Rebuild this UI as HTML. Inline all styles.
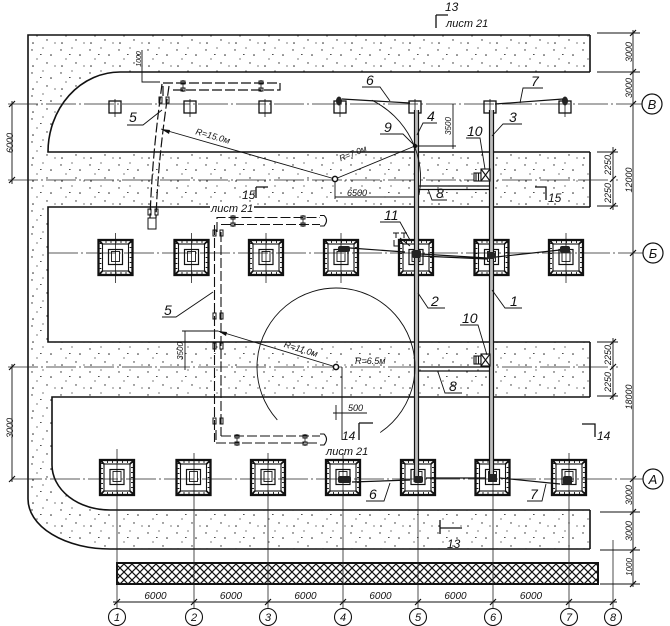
<!DOCTYPE html>
<html><head><meta charset="utf-8">
<style>
html,body{margin:0;padding:0;background:#fff;}
svg{display:block;}
text{font-family:"Liberation Sans",sans-serif;font-style:italic;fill:#111;}
</style></head>
<body>
<svg width="670" height="626" viewBox="0 0 670 626" xmlns="http://www.w3.org/2000/svg">
<defs>
<pattern id="sand" width="29" height="23" patternUnits="userSpaceOnUse">
 <circle cx="3" cy="4" r="0.7" fill="#222"/>
 <circle cx="14" cy="2" r="0.6" fill="#222"/>
 <circle cx="22" cy="9" r="0.8" fill="#222"/>
 <circle cx="8" cy="13" r="0.6" fill="#222"/>
 <circle cx="18" cy="17" r="0.7" fill="#222"/>
 <circle cx="26" cy="20" r="0.6" fill="#222"/>
 <circle cx="4" cy="20" r="0.8" fill="#222"/>
 <rect x="11" y="8" width="1.6" height="0.8" fill="#222"/>
</pattern>
<pattern id="hatch" width="8" height="8" patternUnits="userSpaceOnUse">
 <path d="M0,0 L8,8 M8,0 L0,8 M-1,7 L1,9 M7,-1 L9,1 M-1,1 L1,-1 M7,9 L9,7" stroke="#111" stroke-width="1.2"/>
</pattern>
<g id="ped">
 <rect x="-17" y="-17.5" width="34" height="35" fill="none" stroke="#111" stroke-width="2.3"/>
 <rect x="-15" y="-15.5" width="30" height="31" fill="none" stroke="#111" stroke-width="1.8" stroke-dasharray="1 4"/>
 <rect x="-13" y="-13.5" width="26" height="27" fill="none" stroke="#111" stroke-width="1.1"/>
 <path d="M-17,-17.5 l4,4 M17,-17.5 l-4,4 M-17,17.5 l4,-4 M17,17.5 l-4,-4" stroke="#111" stroke-width="1.6"/>
 <rect x="-7" y="-8" width="14" height="15" fill="none" stroke="#111" stroke-width="1.2"/>
 <rect x="-4" y="-6" width="8" height="10" fill="none" stroke="#111" stroke-width="0.9"/>
</g>
<g id="sq">
 <rect x="-6" y="-3" width="12" height="12" fill="none" stroke="#111" stroke-width="1.3"/>
 <path d="M0,-5 V13" stroke="#111" stroke-width="0.8"/>
</g>
<g id="boltv">
 <rect x="-5" y="-3" width="3" height="6" fill="none" stroke="#111" stroke-width="1"/>
 <rect x="2" y="-3" width="3" height="6" fill="none" stroke="#111" stroke-width="1"/>
</g>
<g id="bolth">
 <rect x="-2" y="-5" width="4" height="3" fill="none" stroke="#111" stroke-width="1"/>
 <rect x="-2" y="2" width="4" height="3" fill="none" stroke="#111" stroke-width="1"/>
 <path d="M0,-6 V6" stroke="#111" stroke-width="0.8"/>
</g>
</defs>

<rect width="670" height="626" fill="#fff"/>

<!-- sand -->
<path d="M28,35 L590,35 L590,549 L110,549 A82,50 0 0 1 28,499 Z" fill="url(#sand)"/>
<path d="M120,72 L600,72 L600,152 L48,152 A72,80 0 0 1 120,72 Z" fill="#fff"/>
<rect x="48" y="207" width="552" height="135" fill="#fff"/>
<path d="M52,397 L600,397 L600,510 L110,510 A58,45 0 0 1 52,465 Z" fill="#fff"/>
<g fill="none" stroke="#111" stroke-width="1.6">
 <path d="M590,35 L28,35 L28,499 A82,50 0 0 0 110,549 L590,549"/>
 <path d="M590,35 V72 M590,152 V207 M590,342 V397 M590,510 V549"/>
 <path d="M590,72 L120,72 A72,80 0 0 0 48,152 L590,152"/>
 <path d="M590,207 L48,207 L48,342 L590,342"/>
 <path d="M590,397 L52,397 L52,465 A58,45 0 0 0 110,510 L590,510"/>
</g>

<!-- hatched strip -->
<rect x="117" y="563" width="481" height="21" fill="url(#hatch)" stroke="#111" stroke-width="2"/>

<!-- axis / centre lines -->
<g fill="none" stroke="#222" stroke-width="0.8" stroke-dasharray="30 3 2 3">
 <path d="M8,104 H642"/>
 <path d="M48,253 H643"/>
 <path d="M12,479 H644"/>
 <path d="M8,180 H618"/>
 <path d="M8,367 H618"/>
</g>
<!-- column lines -->
<g stroke="#222" stroke-width="0.8" fill="none">
 <path d="M117,449 V608 M194,453 V608 M268,453 V608 M343,453 V608 M418,453 V608 M493,453 V608 M569,453 V608 M613,540 V608"/>
 <path d="M115.5,233 V283 M191.5,233 V283 M266,233 V283 M341,233 V283 M416,233 V283 M491.5,233 V283 M566,233 V283"/>
</g>

<!-- left dims -->
<g stroke="#111" stroke-width="0.9" fill="none">
 <path d="M12,101 V184 M12,364 V482"/>
 <path d="M9,107 L15,101 M9,183 L15,177 M9,370 L15,364 M9,482 L15,476" stroke-width="1.2"/>
</g>
<text transform="translate(13,143) rotate(-90)" font-size="9" text-anchor="middle">6000</text>
<text transform="translate(13,428) rotate(-90)" font-size="9" text-anchor="middle">3000</text>

<!-- right dims -->
<g stroke="#111" stroke-width="0.9" fill="none">
 <path d="M633,30 V587"/>
 <path d="M597,33 H640 M597,72 H640 M600,512 H640 M600,550 H640 M600,584 H640"/>
 <path d="M630,36 L636,30 M630,75 L636,69 M630,107 L636,101 M630,256 L636,250 M630,482 L636,476 M630,515 L636,509 M630,553 L636,547 M630,587 L636,581" stroke-width="1.2"/>
 <path d="M613,147 V210 M613,338 V400"/>
 <path d="M597,152 H618 M597,206 H618 M597,342 H618 M597,396 H618"/>
 <path d="M610,155 L616,149 M610,182 L616,176 M610,209 L616,203 M610,345 L616,339 M610,370 L616,364 M610,399 L616,393" stroke-width="1.2"/>
</g>
<g font-size="9" text-anchor="middle">
 <text transform="translate(632,52) rotate(-90)">3000</text>
 <text transform="translate(632,88) rotate(-90)">3000</text>
 <text transform="translate(632,180) rotate(-90)">12000</text>
 <text transform="translate(632,397) rotate(-90)">18000</text>
 <text transform="translate(632,495) rotate(-90)">3000</text>
 <text transform="translate(632,531) rotate(-90)">3000</text>
 <text transform="translate(632,567) rotate(-90)" font-size="8">1000</text>
 <text transform="translate(611,165) rotate(-90)">2250</text>
 <text transform="translate(611,193) rotate(-90)">2250</text>
 <text transform="translate(611,355) rotate(-90)">2250</text>
 <text transform="translate(611,382) rotate(-90)">2250</text>
</g>

<!-- row axis circles -->
<g fill="#fff" stroke="#111" stroke-width="1.2">
 <circle cx="652" cy="104" r="10"/>
 <circle cx="653" cy="253" r="10"/>
 <circle cx="653" cy="479" r="10"/>
</g>
<g font-size="13" text-anchor="middle">
 <text x="652" y="109">В</text>
 <text x="653" y="258">Б</text>
 <text x="653" y="484">А</text>
</g>

<!-- bottom dims -->
<g stroke="#111" stroke-width="0.9" fill="none">
 <path d="M113,602 H617"/>
 <path d="M114,605 L120,599 M191,605 L197,599 M265,605 L271,599 M340,605 L346,599 M415,605 L421,599 M490,605 L496,599 M566,605 L572,599 M610,605 L616,599" stroke-width="1.2"/>
</g>
<g font-size="10" text-anchor="middle">
 <text x="155.5" y="599">6000</text>
 <text x="231" y="599">6000</text>
 <text x="305.5" y="599">6000</text>
 <text x="380.5" y="599">6000</text>
 <text x="455.5" y="599">6000</text>
 <text x="531" y="599">6000</text>
</g>
<g fill="#fff" stroke="#111" stroke-width="1.1">
 <circle cx="117" cy="617" r="8.5"/><circle cx="194" cy="617" r="8.5"/><circle cx="268" cy="617" r="8.5"/>
 <circle cx="343" cy="617" r="8.5"/><circle cx="418" cy="617" r="8.5"/><circle cx="493" cy="617" r="8.5"/>
 <circle cx="569" cy="617" r="8.5"/><circle cx="613" cy="617" r="8.5"/>
</g>
<g font-size="11" text-anchor="middle">
 <text x="117" y="621">1</text><text x="194" y="621">2</text><text x="268" y="621">3</text>
 <text x="343" y="621">4</text><text x="418" y="621">5</text><text x="493" y="621">6</text>
 <text x="569" y="621">7</text><text x="613" y="621">8</text>
</g>

<!-- top row squares -->
<use href="#sq" x="115" y="104"/><use href="#sq" x="190" y="104"/><use href="#sq" x="265" y="104"/>
<use href="#sq" x="340" y="104"/><use href="#sq" x="415" y="104"/><use href="#sq" x="490" y="104"/>
<use href="#sq" x="565" y="104"/>
<ellipse cx="339" cy="101" rx="3" ry="4.5" fill="#222"/>
<ellipse cx="565" cy="101" rx="3" ry="4.5" fill="#222"/>

<!-- pedestals -->
<use href="#ped" x="115.5" y="257.5"/><use href="#ped" x="191.5" y="257.5"/><use href="#ped" x="266" y="257.5"/>
<use href="#ped" x="341" y="257.5"/><use href="#ped" x="416" y="257.5"/><use href="#ped" x="491.5" y="257.5"/>
<use href="#ped" x="566" y="257.5"/>
<use href="#ped" x="117" y="477.5"/><use href="#ped" x="193.5" y="477.5"/><use href="#ped" x="268" y="477.5"/>
<use href="#ped" x="343" y="477.5"/><use href="#ped" x="418" y="477.5"/><use href="#ped" x="492.5" y="477.5"/>
<use href="#ped" x="569" y="477.5"/>

<!-- pipes -->
<rect x="414.5" y="110" width="4" height="368" fill="#bbb"/>
<rect x="489.5" y="110" width="4" height="368" fill="#bbb"/>
<g stroke="#111" fill="none" stroke-width="1.2">
 <path d="M414.5,110 V478 M418.5,110 V478"/>
 <path d="M489.5,110 V478 M493.5,110 V478"/>
 <path d="M418,186 H490 M418,189.5 H490"/>
 <path d="M418,367 H490 M418,371 H490"/>
 <path d="M342,99 L410,103 M495,104 L563,99"/>
 <path d="M350,248 L405,252 M421,254 L487,258 M421,256 L487,259 M496,257 L560,250"/>
 <path d="M352,482 L410,480 M426,478 L486,478 M500,478 L560,484"/>
</g>
<g fill="#222">
 <rect x="338" y="246" width="12" height="6" rx="2"/>
 <rect x="560" y="246" width="10" height="7" rx="2"/>
 <rect x="412" y="250" width="9" height="8" rx="2"/>
 <rect x="487" y="252" width="8" height="7" rx="2"/>
 <rect x="338" y="476" width="13" height="7" rx="2"/>
 <rect x="563" y="476" width="9" height="9" rx="2"/>
 <rect x="414" y="476" width="9" height="7" rx="2"/>
 <rect x="488" y="474" width="9" height="8" rx="1"/>
</g>
<!-- valves 10 -->
<g stroke="#111" fill="#fff" stroke-width="1.1">
 <rect x="474" y="173" width="7" height="8"/>
 <rect x="481" y="169" width="9" height="12"/>
 <path d="M481,169 L490,181 M490,169 L481,181" fill="none"/>
 <rect x="474" y="356" width="7" height="8"/>
 <rect x="481" y="354" width="9" height="12"/>
 <path d="M481,354 L490,366 M490,354 L481,366" fill="none"/>
 <path d="M476,173 V181 M478.5,173 V181 M476,356 V364 M478.5,356 V364" fill="none"/>
</g>

<!-- pipe 5 upper (dashed) -->
<g stroke="#111" fill="none" stroke-width="1.2" stroke-dasharray="10 3">
 <path d="M162,84 C158,115 152,160 150,218"/>
 <path d="M169,86 C165,115 158,160 156,218"/>
 <path d="M163,96 V83 H280 V90 H170"/>
</g>
<rect x="148" y="218" width="8" height="11" fill="none" stroke="#111" stroke-width="1"/>
<use href="#boltv" x="153" y="212"/>
<use href="#boltv" x="164" y="100"/>
<use href="#bolth" x="183" y="86"/>
<use href="#bolth" x="261" y="86"/>
<!-- 1000 dim -->
<path d="M142,50 V82 H160" stroke="#111" stroke-width="0.9" fill="none"/>
<text transform="translate(141,59) rotate(-90)" font-size="7" text-anchor="middle">1000</text>

<!-- pipe 5 middle -->
<g stroke="#111" fill="none" stroke-width="1.1" stroke-dasharray="10 3">
 <path d="M214.5,225 V442"/>
 <path d="M221,232 V436"/>
 <path d="M217,232 V217.5 H320"/>
 <path d="M221,224.5 H320"/>
 <path d="M216,430 V443 H320"/>
 <path d="M221,436 H320"/>
</g>
<path d="M320,215.5 H324 Q329,220 324,226 H320 M320,434 H324 Q329,439 324,445 H320" stroke="#111" fill="none" stroke-width="1.1"/>
<use href="#bolth" x="233" y="221"/><use href="#bolth" x="303" y="221"/>
<use href="#bolth" x="237" y="440"/><use href="#bolth" x="305" y="440"/>
<use href="#boltv" x="218" y="233"/><use href="#boltv" x="218" y="316"/>
<use href="#boltv" x="218" y="346"/><use href="#boltv" x="218" y="421"/>

<!-- radii and dims -->
<g stroke="#111" fill="none" stroke-width="0.9">
 <path d="M161,129 L335,179"/>
 <path d="M335,179 L415,146"/>
 <path d="M371.8,100.2 A87,87 0 0 1 419,195"/>
 <path d="M335,181 V199 M335,197 H415"/>
 <path d="M453,104 V149 M415,146 H456"/>
 <path d="M218,331 L336,367"/>
 <path d="M182,331 H218 M185,331 V370"/>
 <path d="M277.3,419.9 A79,79 0 1 1 380.2,432.5"/>
 <path d="M333,413 H367 M342,367 V440 M336,405 V420"/>
</g>
<path d="M161,129 l9,1 l-1,4 Z M218,331 l9,1 l-1,4 Z" fill="#111"/>
<circle cx="335" cy="179" r="2.6" fill="#fff" stroke="#111" stroke-width="1.5"/>
<circle cx="336" cy="367" r="2.6" fill="#fff" stroke="#111" stroke-width="1.5"/>
<circle cx="415" cy="146" r="2.2" fill="#111"/>
<text transform="translate(212,139) rotate(16)" font-size="9" text-anchor="middle">R=15.0м</text>
<text transform="translate(354,156) rotate(-22)" font-size="8.5" text-anchor="middle">R=7.0м</text>
<text transform="translate(300,352) rotate(17)" font-size="9" text-anchor="middle">R=11.0м</text>
<text x="355" y="364" font-size="9">R=6.5м</text>
<text x="347" y="196" font-size="9">6500</text>
<text x="348" y="411" font-size="9">500</text>
<text transform="translate(451,126) rotate(-90)" font-size="8" text-anchor="middle">3500</text>
<text transform="translate(183,351) rotate(-90)" font-size="8" text-anchor="middle">3500</text>

<!-- section marks -->
<g stroke="#111" fill="none" stroke-width="1.3">
 <path d="M436,15 V28 M436,15 H448"/>
 <path d="M256,187 H268 M256,187 V198"/>
 <path d="M535,187 H546 V200"/>
 <path d="M359,423 V440 M359,423 H373"/>
 <path d="M582,424 H595 V437"/>
 <path d="M440,520 V534 M440,528 H462"/>
</g>
<g font-size="12">
 <text x="445" y="11">13</text>
 <text x="242" y="199">15</text>
 <text x="548" y="202">15</text>
 <text x="342" y="440">14</text>
 <text x="597" y="440">14</text>
 <text x="447" y="548">13</text>
</g>
<rect x="210" y="202" width="44" height="10" fill="#fff"/>
<g font-size="11">
 <text x="446" y="27">лист 21</text>
 <text x="211" y="212">лист 21</text>
 <text x="326" y="455">лист 21</text>
</g>

<!-- item 11 symbol -->
<g stroke="#111" fill="none" stroke-width="1">
 <path d="M393,233 h6 M401,233 h6 M396,233 v5 M404,233 v5 M394,240 v6 h6 M400,238 l10,8"/>
</g>

<!-- leader labels -->
<g stroke="#111" fill="none" stroke-width="0.9">
 <path d="M127,125 H143 L162,110"/>
 <path d="M162,317 H176 L213,292"/>
 <path d="M362,87 H380 L390,101"/>
 <path d="M543,88 H523 L520,103"/>
 <path d="M380,134 H403 L415,146"/>
 <path d="M437,123 H423 L417,135"/>
 <path d="M522,124 H503 L492,136"/>
 <path d="M466,138 H480 L485,169"/>
 <path d="M460,325 H478 L487,355"/>
 <path d="M380,222 H400 L410,240"/>
 <path d="M445,308 H428 L418,293"/>
 <path d="M522,308 H505 L492,290"/>
 <path d="M447,200 H432 L428,189"/>
 <path d="M462,393 H445 L438,372"/>
 <path d="M366,501 H384 L390,483"/>
 <path d="M527,501 H542 L546,484"/>
</g>
<g font-size="14">
 <text x="129" y="122">5</text>
 <text x="164" y="315">5</text>
 <text x="366" y="85">6</text>
 <text x="531" y="86">7</text>
 <text x="384" y="132">9</text>
 <text x="427" y="121">4</text>
 <text x="509" y="122">3</text>
 <text x="467" y="136">10</text>
 <text x="462" y="323">10</text>
 <text x="384" y="220">11</text>
 <text x="431" y="306">2</text>
 <text x="510" y="306">1</text>
 <text x="436" y="198">8</text>
 <text x="449" y="391">8</text>
 <text x="369" y="499">6</text>
 <text x="530" y="499">7</text>
</g>
</svg>
</body></html>
